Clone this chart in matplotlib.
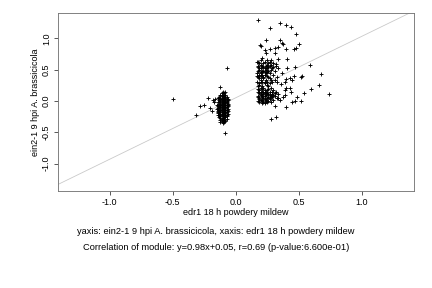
import matplotlib
matplotlib.use("Agg")
import matplotlib.pyplot as plt

# left cluster (x: edr1 18 h powdery mildew, y: ein2-1 9 hpi A. brassicicola)
left_x = [-0.10, -0.08, -0.11, -0.09, -0.12, -0.08, -0.10, -0.13, -0.09, -0.07,
          -0.11, -0.08, -0.14, -0.12, -0.10, -0.07, -0.09, -0.13, -0.11, -0.08,
          -0.06, -0.14, -0.12, -0.10, -0.08, -0.07, -0.13, -0.11, -0.09, -0.06,
          -0.15, -0.12, -0.10, -0.08, -0.07, -0.14, -0.11, -0.09, -0.06, -0.13,
          -0.12, -0.10, -0.08, -0.07, -0.15, -0.11, -0.09, -0.06, -0.13, -0.10,
          -0.08, -0.07, -0.14, -0.12, -0.09, -0.06, -0.13, -0.11, -0.08, -0.07,
          -0.12, -0.10, -0.09, -0.06, -0.14, -0.11, -0.08, -0.12, -0.10, -0.07,
          -0.13, -0.09, -0.08, -0.11, -0.10, -0.07, -0.12, -0.09, -0.11, -0.08,
          -0.10,
          -0.11, -0.09, -0.12, -0.10, -0.06, -0.12, -0.10, -0.09, -0.07, -0.11,
          -0.09, -0.07, -0.13, -0.11, -0.09, -0.06, -0.14, -0.11, -0.08, -0.12,
          -0.11, -0.07, -0.14, -0.10, -0.08, -0.13, -0.09, -0.07, -0.12, -0.10,
          -0.10, -0.09, -0.12, -0.09]
left_y = [0.15, 0.15, 0.12, 0.12, 0.10, 0.10, 0.10, 0.07, 0.07, 0.07,
          0.05, 0.05, 0.05, 0.03, 0.03, 0.03, 0.03, 0.01, 0.01, 0.01,
          0.01, -0.02, -0.02, -0.02, -0.02, -0.02, -0.04, -0.04, -0.04, -0.04,
          -0.06, -0.06, -0.06, -0.06, -0.06, -0.08, -0.08, -0.08, -0.08, -0.10,
          -0.10, -0.10, -0.10, -0.10, -0.12, -0.12, -0.12, -0.12, -0.14, -0.14,
          -0.14, -0.14, -0.16, -0.16, -0.16, -0.16, -0.18, -0.18, -0.18, -0.18,
          -0.20, -0.20, -0.20, -0.20, -0.22, -0.22, -0.22, -0.24, -0.24, -0.24,
          -0.26, -0.26, -0.26, -0.28, -0.28, -0.28, -0.30, -0.30, -0.32, -0.32,
          -0.35,
          0.08, 0.08, 0.04, 0.04, 0.04, 0.00, 0.00, 0.00, 0.00, -0.03,
          -0.03, -0.03, -0.07, -0.07, -0.07, -0.07, -0.11, -0.11, -0.11, -0.15,
          -0.15, -0.15, -0.19, -0.19, -0.19, -0.23, -0.23, -0.23, -0.27, -0.27,
          -0.31, -0.31, -0.33, -0.33]

# points scattered around the left cluster
left_out_x = [-0.50, -0.315, -0.28, -0.25, -0.22, -0.18, -0.17, -0.20, -0.185,
              -0.12, -0.07, -0.08, -0.16, -0.14]
left_out_y = [0.03, -0.22, -0.08, -0.07, 0.05, 0.01, -0.01, -0.11, -0.16,
              0.22, 0.53, -0.51, 0.03, -0.18]

# right cluster core
right_x = [0.20, 0.25, 0.28, 0.19, 0.22, 0.26, 0.30, 0.18, 0.21, 0.24,
           0.27, 0.32, 0.19, 0.20, 0.23, 0.25, 0.29, 0.18, 0.21, 0.22,
           0.26, 0.31, 0.17, 0.20, 0.24, 0.27, 0.19, 0.21, 0.23, 0.30,
           0.18, 0.22, 0.26, 0.20, 0.24, 0.28, 0.31, 0.17, 0.21, 0.25,
           0.29, 0.33, 0.19, 0.23, 0.27, 0.18, 0.21, 0.26, 0.20, 0.22,
           0.28, 0.19, 0.23, 0.25, 0.30, 0.18, 0.21, 0.24, 0.27, 0.32,
           0.20, 0.22, 0.26, 0.29, 0.34, 0.18, 0.21, 0.23, 0.28, 0.31,
           0.19, 0.22, 0.25, 0.27, 0.33, 0.20, 0.21, 0.24, 0.30, 0.19,
           0.22, 0.25, 0.28, 0.21, 0.23,
           0.18, 0.23, 0.27, 0.20, 0.25, 0.28, 0.18, 0.22, 0.26, 0.30,
           0.19, 0.24, 0.28, 0.20, 0.23, 0.25, 0.17, 0.20, 0.25, 0.19,
           0.22, 0.27, 0.20, 0.23, 0.19, 0.25, 0.18, 0.21, 0.26, 0.20,
           0.22, 0.29, 0.19, 0.23, 0.25, 0.31, 0.20, 0.24, 0.27, 0.30,
           0.18, 0.21, 0.26, 0.29, 0.19, 0.23, 0.27, 0.18, 0.21, 0.24,
           0.26]
right_y = [0.65, 0.65, 0.65, 0.60, 0.60, 0.60, 0.60, 0.56, 0.56, 0.56,
           0.56, 0.56, 0.52, 0.52, 0.52, 0.52, 0.52, 0.48, 0.48, 0.48,
           0.48, 0.48, 0.45, 0.45, 0.45, 0.45, 0.42, 0.42, 0.42, 0.42,
           0.38, 0.38, 0.38, 0.34, 0.34, 0.34, 0.34, 0.31, 0.31, 0.31,
           0.31, 0.31, 0.28, 0.28, 0.28, 0.24, 0.24, 0.24, 0.21, 0.21,
           0.21, 0.17, 0.17, 0.17, 0.17, 0.14, 0.14, 0.14, 0.14, 0.14,
           0.11, 0.11, 0.11, 0.11, 0.11, 0.08, 0.08, 0.08, 0.08, 0.08,
           0.05, 0.05, 0.05, 0.05, 0.05, 0.02, 0.02, 0.02, 0.02, -0.01,
           -0.01, -0.01, -0.01, -0.03, -0.03,
           0.63, 0.63, 0.63, 0.58, 0.58, 0.58, 0.54, 0.54, 0.54, 0.54,
           0.50, 0.50, 0.50, 0.46, 0.46, 0.46, 0.40, 0.40, 0.40, 0.36,
           0.36, 0.36, 0.30, 0.30, 0.26, 0.26, 0.19, 0.19, 0.19, 0.15,
           0.15, 0.15, 0.12, 0.12, 0.12, 0.12, 0.09, 0.09, 0.09, 0.09,
           0.06, 0.06, 0.06, 0.06, 0.03, 0.03, 0.03, 0.00, 0.00, 0.00,
           0.00]

# points scattered around the right cluster
right_out_x = [0.18, 0.35, 0.40, 0.44, 0.27, 0.48, 0.24, 0.35, 0.37, 0.375,
               0.195, 0.20, 0.50, 0.48, 0.46, 0.40, 0.23, 0.27, 0.31, 0.34,
               0.24, 0.31, 0.41, 0.34, 0.21, 0.17, 0.32, 0.59, 0.41, 0.47,
               0.34, 0.68, 0.53, 0.52, 0.46, 0.43, 0.40, 0.45, 0.39, 0.66,
               0.60, 0.54, 0.74, 0.49, 0.47, 0.52, 0.45, 0.40, 0.43, 0.44,
               0.39, 0.39, 0.38, 0.34, 0.35, 0.31, 0.40, 0.28, 0.32, 0.36,
               0.33, 0.37]
right_out_y = [1.29, 1.25, 1.21, 1.18, 1.16, 1.07, 0.97, 0.97, 0.93, 0.91,
               0.89, 0.87, 0.91, 0.85, 0.83, 0.83, 0.82, 0.83, 0.84, 0.86,
               0.77, 0.77, 0.67, 0.67, 0.69, 0.63, 0.59, 0.57, 0.52, 0.54,
               0.52, 0.43, 0.40, 0.38, 0.40, 0.36, 0.35, 0.33, 0.31, 0.25,
               0.19, 0.13, 0.11, 0.07, 0.00, 0.00, -0.02, 0.21, 0.20, 0.15,
               0.18, 0.10, 0.07, 0.05, 0.01, -0.08, -0.10, -0.28, -0.25, 0.27,
               0.38, 0.44]

slope = 0.98
intercept = 0.05
x_ticks = [-1.0, -0.5, 0.0, 0.5, 1.0]
y_ticks = [-1.0, -0.5, 0.0, 0.5, 1.0]

plt.rcParams['font.family'] = ['Liberation Sans', 'DejaVu Sans']

fig = plt.figure(figsize=(6, 4), dpi=72)
ax = fig.add_axes([0.134, 0.338, 0.824, 0.616])

xlim = (-1.41, 1.415)
ylim = (-1.43, 1.40)

# regression line
ax.plot(xlim, [slope * v + intercept for v in xlim], color='#c8c8c8', lw=0.8, zorder=1)

xs = left_x + left_out_x + right_x + right_out_x
ys = left_y + left_out_y + right_y + right_out_y
ax.scatter(xs, ys, marker='+', s=20, color='black', linewidths=0.9, zorder=2)

ax.set_xlim(xlim)
ax.set_ylim(ylim)
ax.set_xticks(x_ticks)
ax.set_yticks(y_ticks)
ax.set_xticklabels(['%.1f' % v for v in x_ticks], fontsize=9)
ax.set_yticklabels(['%.1f' % v for v in y_ticks], fontsize=9,
                   rotation=90, va='center')
ax.tick_params(direction='out', length=4, width=0.8, color='#333333', pad=3)
for sp in ax.spines.values():
    sp.set_color('#777777')
    sp.set_linewidth(0.9)

ax.set_ylabel('ein2-1 9 hpi A. brassicicola', fontsize=9, labelpad=1.5)
ax.set_xlabel('edr1 18 h powdery mildew', fontsize=9, labelpad=1)

fig.text(0.5, 1 - 231 / 288, 'yaxis: ein2-1 9 hpi A. brassicicola, xaxis: edr1 18 h powdery mildew',
         ha='center', va='center', fontsize=9.3)
fig.text(0.5, 1 - 248 / 288, 'Correlation of module: y=0.98x+0.05, r=0.69 (p-value:6.600e-01)',
         ha='center', va='center', fontsize=9.3)

fig.savefig('out.png', dpi=72)
